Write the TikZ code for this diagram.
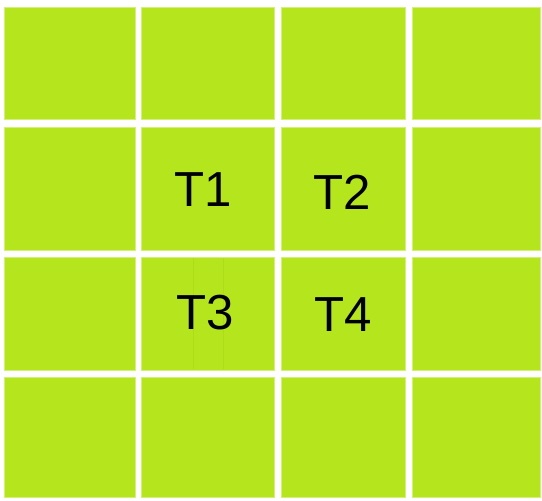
\documentclass[tikz,border=0pt]{standalone}
\usepackage{fontspec}
\setmainfont{Liberation Sans}
\usepackage{xcolor}
\definecolor{tilegreen}{HTML}{B5E61D}
\definecolor{seamgreen}{HTML}{ADDC1B}
\usetikzlibrary{positioning}

\tikzset{
  tile/.style={fill=tilegreen,draw=tilegreen!60!white,line width=0.4pt},
  tilelabel/.style={font=\fontsize{28}{30}\selectfont,inner sep=0pt}
}

\begin{document}
\begin{tikzpicture}[x=0.02cm,y=-0.02cm]
  \useasboundingbox (0,0) rectangle (542,501);
  \fill[white] (0,0) rectangle (542,501);
  % 4x4 grid of tiles
  \foreach \xa/\xb in {4/135,141/274,281/405,412/540}
    \foreach \ya/\yb in {7/119,127/250,257/370,377/497}
      \draw[tile] (\xa,\ya) rectangle (\xb,\yb);
  % faint seams in the T3 tile
  \draw[seamgreen,line width=0.2pt] (193,258) -- (193,369);
  \draw[seamgreen,line width=0.2pt] (223,258) -- (223,369);
  % labels
  \node[tilelabel] (t1) at (203,190) {T1};
  \node[tilelabel] (t2) at (342,192) {T2};
  \node[tilelabel] (t3) at (205,313) {T3};
  \node[tilelabel] (t4) at (343,315) {T4};
\end{tikzpicture}
\end{document}
